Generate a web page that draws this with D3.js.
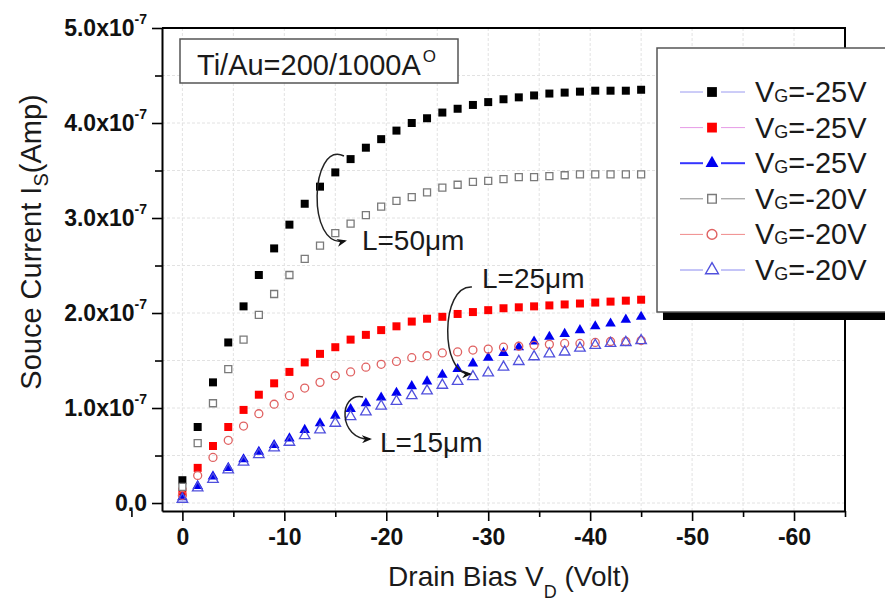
<!DOCTYPE html>
<html>
<head>
<meta charset="utf-8">
<script src="https://cdn.jsdelivr.net/npm/d3@7"></script>
<style>
  body { margin: 0; background: #fff; }
  svg { display: block; font-family: 'Liberation Sans', Arial, sans-serif; }
</style>
</head>
<body>
<svg id="chart" width="885" height="601"></svg>
<script>
// drain bias (V) and source current (x1e-7 A)
const drainBias = [0, -1.5, -3, -4.5, -6, -7.5, -9, -10.5, -12, -13.5, -15, -16.5, -18, -19.5, -21, -22.5,
  -24, -25.5, -27, -28.5, -30, -31.5, -33, -34.5, -36, -37.5, -39, -40.5, -42, -43.5, -45]
const l50Vg25 = [0.24, 0.80, 1.27, 1.69, 2.07, 2.40, 2.68, 2.93, 3.15, 3.33, 3.48, 3.62, 3.74, 3.83, 3.92, 4.00,
  4.05, 4.11, 4.15, 4.19, 4.22, 4.25, 4.27, 4.29, 4.31, 4.32, 4.33, 4.34, 4.34, 4.34, 4.35]
const l25Vg25 = [0.12, 0.37, 0.60, 0.80, 0.98, 1.14, 1.26, 1.38, 1.48, 1.57, 1.64, 1.72, 1.77, 1.82, 1.86, 1.91,
  1.94, 1.96, 1.99, 2.01, 2.03, 2.05, 2.06, 2.07, 2.08, 2.09, 2.10, 2.11, 2.12, 2.13, 2.14]
const l15Vg25 = [0.06, 0.18, 0.28, 0.37, 0.46, 0.54, 0.61, 0.68, 0.77, 0.84, 0.92, 0.99, 1.05, 1.11, 1.16, 1.23,
  1.28, 1.35, 1.41, 1.47, 1.53, 1.58, 1.64, 1.70, 1.75, 1.78, 1.82, 1.86, 1.89, 1.93, 1.96]
const l50Vg20 = [0.17, 0.63, 1.05, 1.41, 1.72, 1.98, 2.20, 2.40, 2.57, 2.71, 2.84, 2.94, 3.03, 3.12, 3.18, 3.22,
  3.27, 3.32, 3.35, 3.38, 3.39, 3.41, 3.43, 3.43, 3.44, 3.45, 3.46, 3.46, 3.46, 3.46, 3.46]
const l25Vg20 = [0.08, 0.29, 0.48, 0.66, 0.81, 0.94, 1.04, 1.13, 1.21, 1.27, 1.34, 1.38, 1.43, 1.46, 1.49, 1.53,
  1.55, 1.58, 1.59, 1.61, 1.62, 1.64, 1.65, 1.66, 1.67, 1.68, 1.68, 1.69, 1.70, 1.70, 1.71]
const l15Vg20 = [0.04, 0.16, 0.25, 0.35, 0.43, 0.51, 0.58, 0.64, 0.71, 0.77, 0.84, 0.91, 0.96, 1.02, 1.07, 1.13,
  1.18, 1.24, 1.28, 1.33, 1.37, 1.43, 1.49, 1.54, 1.57, 1.59, 1.63, 1.66, 1.68, 1.69, 1.71]

const gateLabels = ['=-25V', '=-25V', '=-25V', '=-20V', '=-20V', '=-20V']
const xTicks = [0, -10, -20, -30, -40, -50, -60]
const xMinor = [5, -5, -15, -25, -35, -45, -55, -65]
const yTicks = [0, 1, 2, 3, 4, 5]
const yMinor = [0.5, 1.5, 2.5, 3.5, 4.5]
const gridX = [0, -5, -10, -15, -20, -25, -30, -35, -40, -45, -50, -55, -60]
const gridY = [0, 0.5, 1, 1.5, 2, 2.5, 3, 3.5, 4, 4.5]

const series = [
  { values: l50Vg25, shape: d3.symbolSquare, size: 64, fill: '#000', stroke: 'none', line: '#9a9af0', lw: 1 },
  { values: l25Vg25, shape: d3.symbolSquare, size: 64, fill: '#f00', stroke: 'none', line: '#e69ae6', lw: 1 },
  { values: l15Vg25, shape: d3.symbolTriangle, size: 48, fill: '#0000f0', stroke: 'none', line: '#3535ff', lw: 2 },
  { values: l50Vg20, shape: d3.symbolSquare, size: 49, fill: '#fff', stroke: '#7a7a7a', line: '#8a8a8a', lw: 1 },
  { values: l25Vg20, shape: d3.symbolCircle, size: 50, fill: 'none', stroke: '#e06262', line: '#f08a8a', lw: 1 },
  { values: l15Vg20, shape: d3.symbolTriangle, size: 48, fill: 'none', stroke: '#5050dd', line: '#8a8af0', lw: 1 }
]

const svg = d3.select('#chart')
const x = d3.scaleLinear().domain([2, -65]).range([162, 845])
const y = d3.scaleLinear().domain([-0.084, 5]).range([511, 28])

// grid
svg.append('g')
  .selectAll('line')
  .data(gridX)
  .enter()
  .append('line')
  .attr('x1', d => x(d)).attr('x2', d => x(d))
  .attr('y1', y(5)).attr('y2', y(-0.084))
  .attr('stroke', '#e2e2e2')
  .attr('stroke-dasharray', '3,2')
svg.append('g')
  .selectAll('line')
  .data(gridY)
  .enter()
  .append('line')
  .attr('y1', d => y(d)).attr('y2', d => y(d))
  .attr('x1', x(2)).attr('x2', x(-65))
  .attr('stroke', '#e2e2e2')
  .attr('stroke-dasharray', '3,2')

// frame top / right
svg.append('path')
  .attr('d', `M${x(2)},${y(5)}H${x(-65)}V${y(-0.084)}`)
  .attr('fill', 'none')
  .attr('stroke', '#000')
  .attr('stroke-width', 2)

// x axis
const xAxis = svg.append('g')
  .attr('transform', `translate(0,${y(-0.084)})`)
  .call(d3.axisBottom(x).tickValues(xTicks).tickSize(10).tickSizeOuter(0).tickPadding(8)
    .tickFormat(d => String(d)))
svg.append('g')
  .attr('transform', `translate(0,${y(-0.084)})`)
  .call(d3.axisBottom(x).tickValues(xMinor).tickSize(6).tickSizeOuter(0).tickFormat(''))
  .select('.domain').remove()
xAxis.selectAll('text')
  .attr('font-family', "'Liberation Sans', Arial, sans-serif")
  .attr('font-size', 23)
  .attr('font-weight', 'bold')
  .attr('fill', '#111')

// y axis
const yAxis = svg.append('g')
  .attr('transform', `translate(${x(2)},0)`)
  .call(d3.axisLeft(y).tickValues(yTicks).tickSize(10).tickSizeOuter(0).tickPadding(5))
svg.append('g')
  .attr('transform', `translate(${x(2)},0)`)
  .call(d3.axisLeft(y).tickValues(yMinor).tickSize(7).tickSizeOuter(0).tickFormat(''))
  .select('.domain').remove()
yAxis.selectAll('text')
  .attr('font-family', "'Liberation Sans', Arial, sans-serif")
  .attr('font-size', 23)
  .attr('font-weight', 'bold')
  .attr('fill', '#111')
  .each(function (d) {
    const t = d3.select(this)
    if (d === 0) { t.text('0.0'); return }
    t.text('')
    t.append('tspan').text(d.toFixed(1) + 'x10')
    t.append('tspan').attr('font-size', 14).attr('dy', '-0.85em').text('-7')
  })
svg.selectAll('.domain').attr('stroke-width', 2)
svg.selectAll('.tick line').attr('stroke-width', 1.6)

// annotation box
svg.append('rect')
  .attr('x', 180).attr('y', 39).attr('width', 278).attr('height', 44)
  .attr('fill', '#fff').attr('stroke', '#555').attr('stroke-width', 1.5)
const note = svg.append('text')
  .attr('x', 197).attr('y', 75)
  .attr('font-size', 29)
  .attr('fill', '#1a1a1a')
note.append('tspan').text('Ti/Au=200/1000A')
note.append('tspan').attr('font-size', 17).attr('dy', -13).attr('dx', 2).text('O')

// markers
series.forEach(s => {
  svg.append('g')
    .selectAll('path')
    .data(s.values)
    .enter()
    .append('path')
    .attr('d', d3.symbol().type(s.shape).size(s.size))
    .attr('transform', (d, i) => `translate(${x(drainBias[i])},${y(d)})`)
    .attr('fill', s.fill)
    .attr('stroke', s.stroke)
    .attr('stroke-width', 1.3)
})

// curved arrows with labels, in data units
svg.append('defs').append('marker')
  .attr('id', 'head')
  .attr('viewBox', '0 0 10 8')
  .attr('refX', 8).attr('refY', 4)
  .attr('markerWidth', 10).attr('markerHeight', 8)
  .attr('markerUnits', 'userSpaceOnUse')
  .attr('orient', 'auto')
  .append('path')
  .attr('d', 'M0,0L10,4L0,8L3,4Z')
  .attr('fill', '#111')

const arrows = [
  { pts: [[-15.85, 3.653], [-12.52, 3.821], [-12.12, 2.663], [-15.95, 2.758]], label: [-17.61, 2.663], text: 'L=50' },
  { pts: [[-28.40, 2.274], [-25.27, 2.295], [-25.27, 1.347], [-28.21, 1.358]], label: [-29.39, 2.263], text: 'L=25' },
  { pts: [[-17.72, 1.116], [-15.26, 1.169], [-15.26, 0.663], [-18.40, 0.674]], label: [-19.38, 0.537], text: 'L=15' }
]
arrows.forEach(a => {
  const p = a.pts.map(([v, c]) => [x(v), y(c)])
  svg.append('path')
    .attr('d', `M${p[0]}C${p[1]} ${p[2]} ${p[3]}`)
    .attr('fill', 'none')
    .attr('stroke', '#222')
    .attr('stroke-width', 1.5)
    .attr('marker-end', 'url(#head)')
  const t = svg.append('text')
    .attr('x', x(a.label[0])).attr('y', y(a.label[1]))
    .attr('font-size', 28)
    .attr('fill', '#1a1a1a')
  t.append('tspan').text(a.text)
  t.append('tspan').text('μm')
})

// legend
svg.append('rect')
  .attr('x', 663).attr('y', 312).attr('width', 240).attr('height', 8)
  .attr('fill', '#000')
svg.append('rect')
  .attr('x', 657).attr('y', 48).attr('width', 250).attr('height', 264)
  .attr('fill', '#fff').attr('stroke', '#555').attr('stroke-width', 1.5)

const legendY = d3.scaleLinear().domain([0, 5]).range([92, 270])
series.forEach((s, i) => {
  const ly = legendY(i)
  const g = svg.append('g')
  g.append('line').attr('x1', 680).attr('x2', 703).attr('y1', ly).attr('y2', ly)
    .attr('stroke', s.line).attr('stroke-width', s.lw)
  g.append('line').attr('x1', 721).attr('x2', 745).attr('y1', ly).attr('y2', ly)
    .attr('stroke', s.line).attr('stroke-width', s.lw)
  g.append('path')
    .attr('d', d3.symbol().type(s.shape).size(s.size * 1.5))
    .attr('transform', `translate(712,${ly})`)
    .attr('fill', s.fill)
    .attr('stroke', s.stroke)
    .attr('stroke-width', 1.4)
  const t = g.append('text')
    .attr('x', 755).attr('y', ly + 10)
    .attr('font-size', 29)
    .attr('fill', '#1a1a1a')
  t.append('tspan').text('V')
  t.append('tspan').attr('font-size', 18).text('G')
  t.append('tspan').text(gateLabels[i])
})

// axis titles
const xt = svg.append('text')
  .attr('x', 509).attr('y', 586)
  .attr('text-anchor', 'middle')
  .attr('font-size', 28)
  .attr('fill', '#1a1a1a')
xt.append('tspan').text('Drain Bias V')
xt.append('tspan').attr('font-size', 18).attr('dy', 12).text('D')
xt.append('tspan').attr('dy', -12).text(' (Volt)')

const yt = svg.append('text')
  .attr('transform', 'translate(41,242) rotate(-90)')
  .attr('text-anchor', 'middle')
  .attr('font-size', 29)
  .attr('fill', '#1a1a1a')
yt.append('tspan').text('Souce Current I')
yt.append('tspan').attr('font-size', 20).attr('dy', 7).text('S')
yt.append('tspan').attr('dy', -7).text('(Amp)')
</script>
</body>
</html>
